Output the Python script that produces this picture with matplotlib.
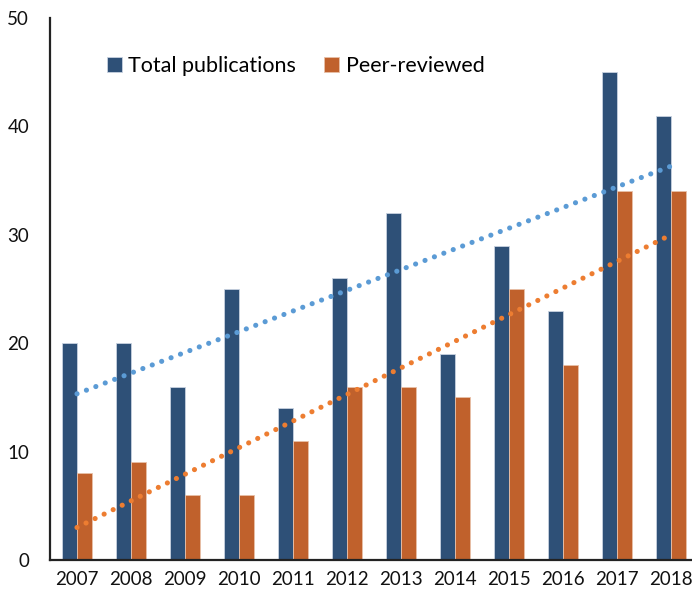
import numpy as np
import matplotlib.pyplot as plt

years = ['2007', '2008', '2009', '2010', '2011', '2012', '2013', '2014', '2015', '2016', '2017', '2018']
total = [20, 20, 16, 25, 14, 26, 32, 19, 29, 23, 45, 41]
peer = [8, 9, 6, 6, 11, 16, 16, 15, 25, 18, 34, 34]

blue = '#2E5077'
orange = '#C0612C'
blue_trend = '#5B9BD5'
orange_trend = '#ED7D31'

plt.rcParams['font.family'] = ['Lato', 'DejaVu Sans']

fig = plt.figure(figsize=(6.92, 5.98), dpi=100)
ax = fig.add_axes([50 / 692, 38 / 598, 648 / 692, 542 / 598])

x = np.arange(len(years))
w = 0.287
ax.bar(x - w / 2, total, w, color=blue, edgecolor='#c8d2e0', linewidth=0.6, label='Total publications')
ax.bar(x + w / 2, peer, w, color=orange, edgecolor='#e8c0a8', linewidth=0.6, label='Peer-reviewed')

# linear trendlines
for vals, c in [(total, blue_trend), (peer, orange_trend)]:
    k, b = np.polyfit(x, vals, 1)
    ax.plot(x, k * x + b, color=c, lw=3.7, linestyle=(0, (0.01, 1.95)),
            dash_capstyle='round', zorder=3)

ax.set_xlim(-0.5, len(years) - 0.5)
ax.set_ylim(0, 50)
ax.set_yticks(range(0, 51, 10))
ax.set_xticks(x)
ax.set_xticklabels(years)
ax.tick_params(axis='both', length=0, labelsize=13.5, colors='#111111')
ax.tick_params(axis='y', pad=15)
ax.tick_params(axis='x', pad=8)

for s in ['top', 'right']:
    ax.spines[s].set_visible(False)
for s in ['left', 'bottom']:
    ax.spines[s].set_linewidth(1.6)
    ax.spines[s].set_color('#222222')

fig.legend(loc='upper left', bbox_to_anchor=(98 / 692, 1 - 47 / 598), ncol=2,
           frameon=False, fontsize=15.5, handlelength=0.7, handleheight=0.7,
           handletextpad=0.3, columnspacing=1.3, borderaxespad=0)

fig.savefig('out.png', dpi=100)
